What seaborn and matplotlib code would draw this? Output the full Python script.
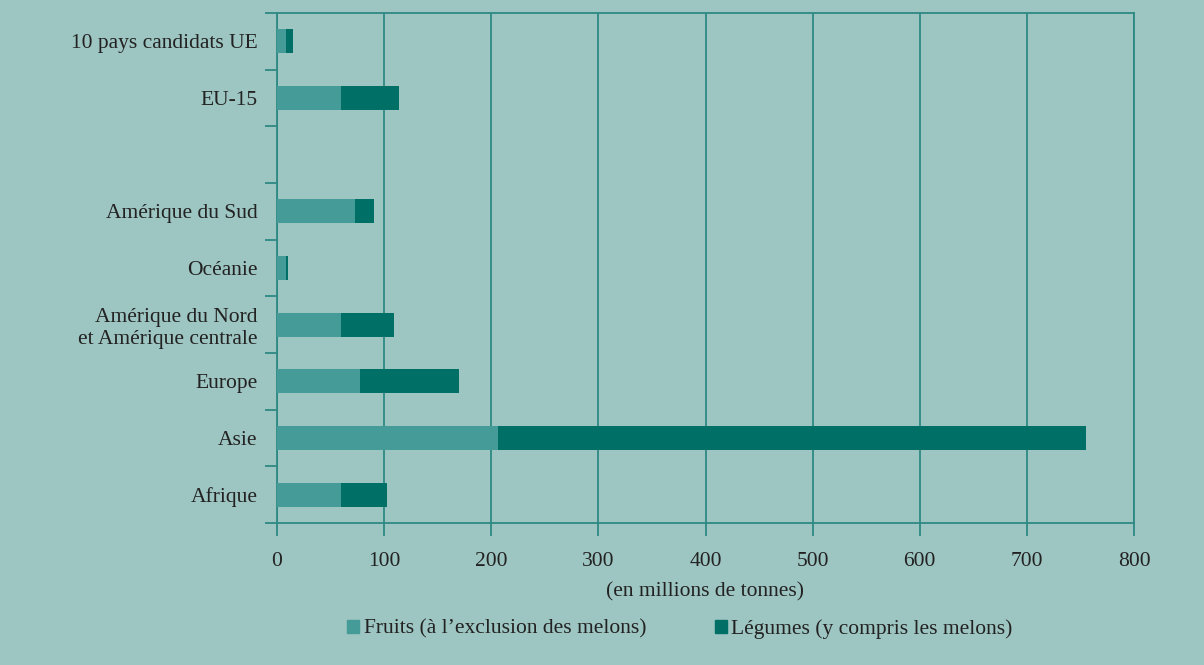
import matplotlib
matplotlib.use("Agg")
import matplotlib.pyplot as plt
from matplotlib.patches import Patch
import seaborn as sns
import pandas as pd
import numpy as np

regions = ["10 pays candidats UE", "EU-15", " ", "Amérique du Sud", "Océanie",
           "Amérique du Nord\net Amérique centrale", "Europe", "Asie", "Afrique"]
fruits = [8, 60, 0, 73, 8.5, 60, 77.5, 206, 60]
legumes = [7, 54, 0, 18, 2, 49, 92.5, 549, 43]

bg = "#9dc5c1"
c_fruits = "#459b97"
c_leg = "#007066"
c_line = "#2e8a83"
fs = 15.5

df = pd.DataFrame({"region": regions, "fruits": fruits, "legumes": legumes})
df["total"] = df["fruits"] + df["legumes"]

sns.set_theme(style="white")
plt.rcParams["font.family"] = ["Liberation Serif", "DejaVu Serif"]

fig = plt.figure(figsize=(12.04, 6.65), dpi=100, facecolor=bg)
ax = fig.add_axes([277 / 1204, 1 - 523 / 665, (1134 - 277) / 1204, (523 - 13) / 665])
ax.set_facecolor(bg)

sns.barplot(data=df, x="total", y="region", order=regions, color=c_leg,
            width=0.42, saturation=1, ax=ax, zorder=3)
sns.barplot(data=df, x="fruits", y="region", order=regions, color=c_fruits,
            width=0.42, saturation=1, ax=ax, zorder=4)
for p in ax.patches:
    p.set_linewidth(0)

ax.set_xlim(0, 800)
ax.set_ylim(len(regions) - 0.5, -0.5)
ax.set_xticks(range(0, 900, 100))
ax.xaxis.grid(True, color=c_line, lw=1.3, zorder=1)
ax.set_axisbelow(True)
for s in ax.spines.values():
    s.set_color(c_line)
    s.set_linewidth(1.3)

ax.set_yticks(np.arange(len(regions)))
ax.set_yticklabels(regions, fontsize=fs, color="#222222", linespacing=1.2)
ax.set_yticks(np.arange(-0.5, len(regions)), minor=True)
ax.tick_params(axis="y", which="major", length=0, pad=14)
ax.tick_params(axis="y", which="minor", length=9, width=1.3, color=c_line, left=True)
ax.tick_params(axis="x", length=9, width=1.3, color=c_line, bottom=True,
               labelsize=fs, labelcolor="#222222", pad=12)
ax.set_ylabel("")
ax.set_xlabel("(en millions de tonnes)", fontsize=fs, color="#222222", labelpad=8)

handles = [Patch(color=c_fruits, label="Fruits (à l\u2019exclusion des melons)"),
           Patch(color=c_leg, label="Légumes (y compris les melons)")]
fig.legend(handles=handles, loc="center", bbox_to_anchor=(680 / 1204, 1 - 629 / 665),
           ncol=2, frameon=False, fontsize=15.5, handlelength=0.55, handleheight=0.55,
           handletextpad=0.2, columnspacing=3.2, labelcolor="#222222")

fig.savefig("out.png", dpi=100, facecolor=bg)
